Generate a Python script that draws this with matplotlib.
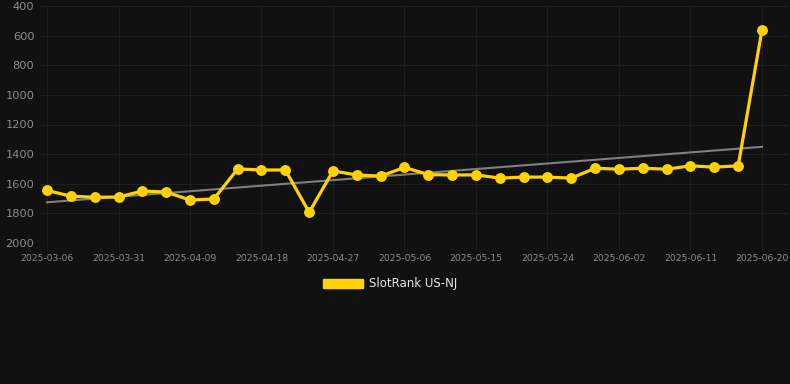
import numpy as np
import matplotlib.pyplot as plt
from matplotlib.patches import Patch

dates = ["2025-03-06", "2025-03-25", "2025-03-28", "2025-03-31", "2025-04-03", "2025-04-06",
         "2025-04-09", "2025-04-12", "2025-04-15", "2025-04-18", "2025-04-21", "2025-04-24",
         "2025-04-27", "2025-04-30", "2025-05-03", "2025-05-06", "2025-05-09", "2025-05-12",
         "2025-05-15", "2025-05-18", "2025-05-21", "2025-05-24", "2025-05-27", "2025-05-30",
         "2025-06-02", "2025-06-05", "2025-06-08", "2025-06-11", "2025-06-14", "2025-06-17",
         "2025-06-20"]
rank = [1645, 1684, 1691, 1690, 1649, 1656, 1710, 1703, 1500, 1507, 1507, 1793, 1513,
        1541, 1548, 1490, 1538, 1541, 1540, 1562, 1555, 1555, 1562, 1495, 1502, 1495,
        1502, 1479, 1488, 1479, 561]
series_name = "SlotRank US-NJ"

bg = "#111111"
grid_c = "#1f1f1f"
tick_c = "#8c8c8c"
yellow = "#FFD200"

x = np.arange(len(rank))
# linear trend over the whole series
slope, intercept = np.polyfit(x, rank, 1)
trend = slope * x + intercept

fig = plt.figure(figsize=(7.9, 3.84), dpi=100, facecolor=bg)
ax = fig.add_axes([40 / 790, 1 - 243 / 384, 748 / 790, 237 / 384], facecolor=bg)

ax.plot(x, trend, color="#808080", linewidth=1.5, zorder=2)
ax.plot(x, rank, color=yellow, linewidth=2.3, marker="o", markersize=6.8, zorder=3)

ax.set_ylim(2000, 400)
ax.set_yticks(range(400, 2001, 200))
ax.set_xlim(-7 / 23.83, 30 + 26 / 23.83)
ax.set_xticks(x[::3])
ax.set_xticklabels(dates[::3])

ax.grid(True, color=grid_c, linewidth=0.8)
for s in ax.spines.values():
    s.set_visible(False)
ax.tick_params(axis="y", colors=tick_c, labelsize=8.2, length=0, pad=4)
ax.tick_params(axis="x", colors=grid_c, labelcolor=tick_c, labelsize=6.6, length=5, pad=3)

ax.legend(handles=[Patch(facecolor=yellow, edgecolor=yellow)], labels=[series_name],
          loc="center", bbox_to_anchor=(390 / 790, 1 - 284 / 384),
          bbox_transform=fig.transFigure, frameon=False, fontsize=8.5,
          labelcolor="#e6e6e6", handlelength=3.4, handleheight=0.85, handletextpad=0.5)

fig.savefig("out.png", dpi=100, facecolor=bg)
